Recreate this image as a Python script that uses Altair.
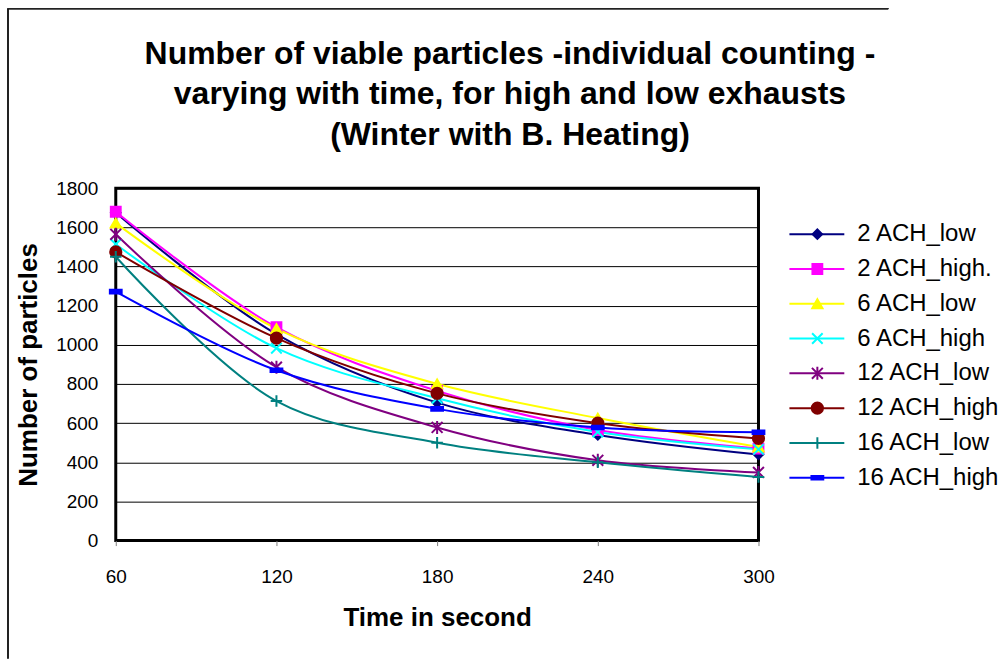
import altair as alt
import pandas as pd

times = [60, 120, 180, 240, 300]
series_names = ["2 ACH_low", "2 ACH_high.", "6 ACH_low", "6 ACH_high",
                "12 ACH_low", "12 ACH_high", "16 ACH_low", "16 ACH_high"]
ach2_low = [1675, 1055, 705, 540, 440]
ach2_high = [1680, 1090, 765, 565, 470]
ach6_low = [1622, 1083, 801, 626, 478]
ach6_high = [1514, 983, 727, 555, 466]
ach12_low = [1565, 886, 578, 410, 348]
ach12_high = [1475, 1034, 752, 600, 522]
ach16_low = [1450, 713, 500, 400, 325]
ach16_high = [1272, 870, 673, 578, 553]
y_ticks = [0, 200, 400, 600, 800, 1000, 1200, 1400, 1600, 1800]
title_lines = ["Number of viable particles -individual counting -",
               "varying with time, for high and low exhausts",
               "(Winter with B. Heating)"]

series_values = [ach2_low, ach2_high, ach6_low, ach6_high,
                 ach12_low, ach12_high, ach16_low, ach16_high]

colors = ["#000080", "#FF00FF", "#FFFF00", "#00FFFF",
          "#800080", "#800000", "#008080", "#0000FF"]
shapes = ["diamond", "square", "triangle-up",
          "M-1,-1L1,1M-1,1L1,-1",
          "M-1,-1L1,1M-1,1L1,-1M0,-1.2L0,1.2",
          "circle",
          "M-1,0L1,0M0,-1L0,1",
          "M-1,-0.3L1,-0.3L1,0.3L-1,0.3Z"]
sizes = [90, 140, 160, 130, 150, 160, 150, 110]

rows = []
for name, vals in zip(series_names, series_values):
    for t, v in zip(times, vals):
        rows.append({"series": name, "time": t, "value": v})
df = pd.DataFrame(rows)
leg_df = pd.DataFrame({"series": series_names})
title_df = pd.DataFrame({"line": title_lines, "idx": [0, 1, 2]})

W, H = 644, 353
FONT = "Liberation Sans"

color_scale = alt.Scale(domain=series_names, range=colors)
shape_scale = alt.Scale(domain=series_names, range=shapes)
size_scale = alt.Scale(domain=series_names, range=sizes)

x_scale = alt.Scale(domain=[60, 300], nice=False, zero=False)
y_scale = alt.Scale(domain=[0, 1800], nice=False)

x_enc = alt.X("time:Q", scale=x_scale,
              axis=alt.Axis(values=times, title="Time in second", grid=False,
                            domain=False, ticks=True, tickSize=5, tickColor="#808080",
                            labelFlush=False,
                            labelPadding=22, labelFontSize=19, labelFont=FONT,
                            labelColor="black", titleFontSize=26, titleFont=FONT,
                            titleFontWeight="bold", titleColor="black",
                            titlePadding=18, format="d"))
y_enc = alt.Y("value:Q", scale=y_scale,
              axis=alt.Axis(values=y_ticks, title="Number of particles", grid=True,
                            gridColor="black", gridWidth=1, gridOpacity=1,
                            domain=False, ticks=False, labelPadding=18,
                            labelFlush=False,
                            labelFontSize=19, labelFont=FONT, labelColor="black",
                            titleFontSize=26, titleFont=FONT, titleFontWeight="bold",
                            titleColor="black", titlePadding=14, format="d"))

base = alt.Chart(df)
lines = base.mark_line(interpolate="catmull-rom", strokeWidth=2).encode(
    x=x_enc, y=y_enc,
    color=alt.Color("series:N", scale=color_scale, legend=None),
    detail="series:N",
)
points = base.mark_point(filled=True, strokeWidth=2, opacity=1).encode(
    x=x_enc,
    y=alt.Y("value:Q", scale=y_scale, axis=None),
    fill=alt.Fill("series:N", scale=color_scale, legend=None),
    stroke=alt.Stroke("series:N", scale=color_scale, legend=None),
    shape=alt.Shape("series:N", scale=shape_scale, legend=None),
    size=alt.Size("series:O", scale=size_scale, legend=None),
)

leg_y = alt.Y("series:N", sort=series_names,
              scale=alt.Scale(domain=series_names, type="point", range=[46, 290],
                              padding=0),
              axis=None)
leg_base = alt.Chart(leg_df)
leg_rule = leg_base.mark_rule(strokeWidth=2).encode(
    x=alt.value(675), x2=alt.value(730), y=leg_y,
    color=alt.Color("series:N", scale=color_scale, legend=None),
)
leg_pts = leg_base.mark_point(filled=True, strokeWidth=2, opacity=1).encode(
    x=alt.value(703), y=leg_y,
    fill=alt.Fill("series:N", scale=color_scale, legend=None),
    stroke=alt.Stroke("series:N", scale=color_scale, legend=None),
    shape=alt.Shape("series:N", scale=shape_scale, legend=None),
    size=alt.Size("series:O", scale=size_scale, legend=None),
)
leg_text = leg_base.mark_text(align="left", baseline="middle", fontSize=24,
                              font=FONT, color="black").encode(
    x=alt.value(743), y=leg_y, text="series:N",
)

title_y = alt.Y("idx:O", scale=alt.Scale(domain=[0, 1, 2], type="point",
                                         range=[-135, -53], padding=0), axis=None)
title_text = alt.Chart(title_df).mark_text(
    align="center", baseline="middle", fontSize=32, fontWeight="bold",
    font=FONT, color="black").encode(x=alt.value(395), y=title_y, text="line:N")

border_left = alt.Chart(leg_df).mark_rule(color="#222222", strokeWidth=1).encode(
    x=alt.value(-108), y=alt.value(-180), y2=alt.value(H + 118))
border_top = alt.Chart(leg_df).mark_rule(color="#222222", strokeWidth=1).encode(
    x=alt.value(-108), x2=alt.value(W + 130), y=alt.value(-180))

chart = alt.layer(
    lines, points, leg_rule, leg_pts, leg_text, title_text, border_left, border_top
).resolve_scale(y="independent").properties(
    width=W, height=H,
    padding={"left": 7, "top": 7, "right": 0, "bottom": 0},
).configure(background="white").configure_view(stroke="black", strokeWidth=3)

chart.save("out.html", embed_options={"renderer": "svg", "actions": False})
